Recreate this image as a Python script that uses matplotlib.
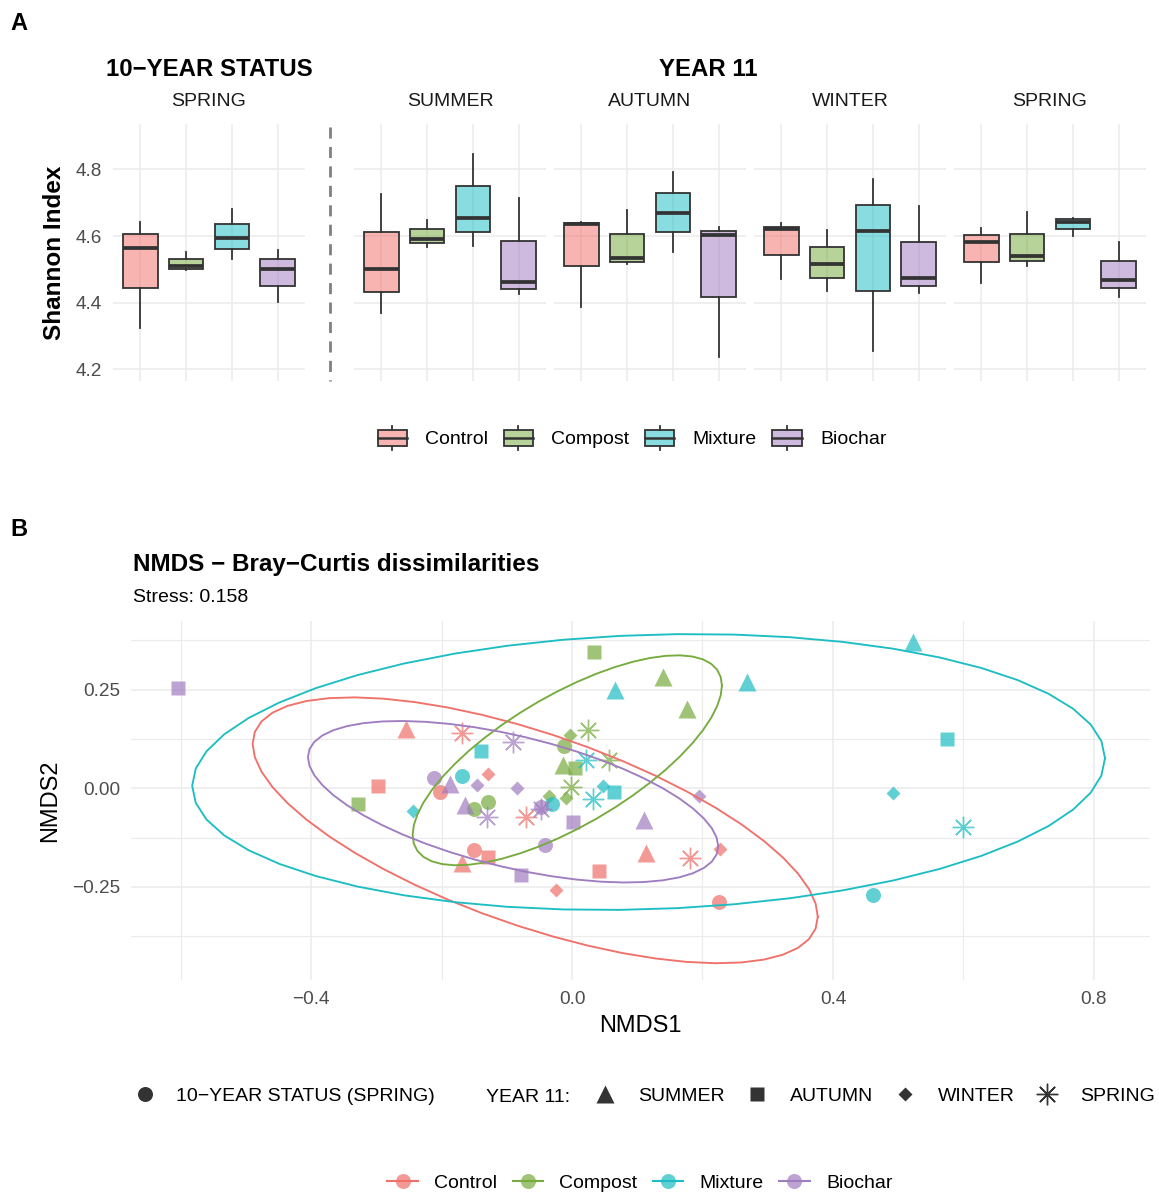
import numpy as np
import matplotlib
matplotlib.use("Agg")
import matplotlib.pyplot as plt
from matplotlib.colors import to_rgba
from matplotlib.lines import Line2D
from matplotlib.patches import Rectangle, Patch
from matplotlib.legend_handler import HandlerBase

plt.rcParams["font.family"] = ["Liberation Sans", "DejaVu Sans"]

# ---------------- data ----------------
treatments = ["Control", "Compost", "Mixture", "Biochar"]
palette = ["#F0706A", "#76AB3D", "#1DBDC4", "#A07CC0"]

# Shannon index box stats per treatment: (whisker low, q1, median, q3, whisker high)
status_spring = [(4.323, 4.445, 4.565, 4.605, 4.642), (4.497, 4.501, 4.510, 4.531, 4.551),
                 (4.532, 4.561, 4.595, 4.637, 4.680), (4.403, 4.450, 4.501, 4.530, 4.557)]
y11_summer = [(4.368, 4.433, 4.501, 4.613, 4.726), (4.568, 4.578, 4.592, 4.620, 4.647),
              (4.571, 4.613, 4.655, 4.751, 4.845), (4.425, 4.442, 4.461, 4.586, 4.714)]
y11_autumn = [(4.386, 4.510, 4.636, 4.639, 4.641), (4.515, 4.523, 4.533, 4.607, 4.677),
              (4.553, 4.611, 4.670, 4.730, 4.791), (4.238, 4.418, 4.602, 4.614, 4.626)]
y11_winter = [(4.472, 4.543, 4.622, 4.628, 4.638), (4.436, 4.475, 4.517, 4.568, 4.617),
              (4.256, 4.436, 4.616, 4.693, 4.770), (4.430, 4.451, 4.474, 4.581, 4.690)]
y11_spring = [(4.460, 4.521, 4.582, 4.603, 4.623), (4.511, 4.525, 4.541, 4.607, 4.671),
              (4.601, 4.621, 4.642, 4.650, 4.653), (4.418, 4.444, 4.468, 4.526, 4.581)]
box_facets = [status_spring, y11_summer, y11_autumn, y11_winter, y11_spring]
facet_titles = ["SPRING", "SUMMER", "AUTUMN", "WINTER", "SPRING"]
shannon_ticks = [4.2, 4.4, 4.6, 4.8]

# NMDS scores (NMDS1, NMDS2), three replicates per sampling
seasons = ["status", "summer", "autumn", "winter", "spring"]
season_labels = ["10−YEAR STATUS (SPRING)", "SUMMER", "AUTUMN", "WINTER", "SPRING"]
control_scores = {
    "status": [(-0.203, -0.009), (-0.150, -0.157), (0.226, -0.289)],
    "summer": [(-0.254, 0.151), (-0.169, -0.189), (0.113, -0.164)],
    "autumn": [(-0.297, 0.006), (-0.128, -0.173), (0.041, -0.210)],
    "winter": [(-0.129, 0.035), (-0.025, -0.259), (0.227, -0.153)],
    "spring": [(-0.168, 0.140), (-0.070, -0.074), (0.181, -0.176)],
}
compost_scores = {
    "status": [(-0.012, 0.107), (-0.128, -0.035), (-0.150, -0.053)],
    "summer": [(-0.014, 0.058), (0.140, 0.283), (0.176, 0.202)],
    "autumn": [(0.034, 0.346), (0.005, 0.052), (-0.328, -0.041)],
    "winter": [(-0.003, 0.134), (-0.036, -0.020), (-0.009, -0.024)],
    "spring": [(0.025, 0.147), (0.057, 0.071), (-0.001, 0.003)],
}
mixture_scores = {
    "status": [(-0.169, 0.030), (-0.030, -0.041), (0.461, -0.270)],
    "summer": [(0.066, 0.249), (0.268, 0.270), (0.523, 0.371)],
    "autumn": [(-0.139, 0.094), (0.064, -0.009), (0.575, 0.126)],
    "winter": [(0.048, 0.006), (-0.243, -0.058), (0.492, -0.011)],
    "spring": [(0.022, 0.071), (0.032, -0.028), (0.600, -0.098)],
}
biochar_scores = {
    "status": [(-0.211, 0.026), (-0.041, -0.145), (-0.048, -0.048)],
    "summer": [(-0.187, 0.012), (-0.164, -0.043), (0.111, -0.081)],
    "autumn": [(-0.604, 0.253), (0.001, -0.085), (-0.078, -0.221)],
    "winter": [(-0.145, 0.009), (-0.085, 0.001), (0.195, -0.019)],
    "spring": [(-0.091, 0.118), (-0.130, -0.074), (-0.048, -0.052)],
}
nmds_groups = [control_scores, compost_scores, mixture_scores, biochar_scores]
stress = 0.158

# ---------------- helpers ----------------
W, H = 1159, 1193
fig = plt.figure(figsize=(W / 100, H / 100), dpi=100)


def fx(px):
    return px / W


def fy(py):
    return 1 - py / H


def rect(x0, y0, x1, y1):
    return [fx(x0), fy(y1), (x1 - x0) / W, (y1 - y0) / H]


def cov_trob(pts, nu=5, maxit=25, tol=0.01):
    # port of MASS::cov.trob, as used by stat_ellipse(type = "t")
    n, p = pts.shape
    loc = pts.mean(axis=0)
    w = np.ones(n)
    for _ in range(maxit):
        w0 = w
        X = pts - loc
        _, d, vt = np.linalg.svd(np.sqrt(w / w.sum())[:, None] * X, full_matrices=False)
        Q = ((X @ vt.T / d) ** 2).sum(axis=1)
        w = (nu + p) / (nu + Q)
        loc = (w[:, None] * pts).sum(axis=0) / w.sum()
        if np.all(np.abs(w - w0) < tol):
            break
    sx = np.sqrt(w)[:, None] * X
    return loc, sx.T @ sx / n


def ellipse(pts, level=0.95, segments=51):
    center, shape = cov_trob(pts)
    dfd = len(pts) - 1
    fq = dfd / 2 * ((1 - level) ** (-2 / dfd) - 1)  # qf(level, 2, dfd)
    radius = np.sqrt(2 * fq)
    t = np.linspace(0, 2 * np.pi, segments)
    circ = np.column_stack([np.cos(t), np.sin(t)])
    L = np.linalg.cholesky(shape)
    return center + radius * circ @ L.T


grid_col = "#EBEBEB"
dark = "#333333"

# ---------------- panel A ----------------
facet_px = [(113, 305), (354, 546), (554, 746), (754, 946), (954, 1146)]
a_top, a_bot = 124, 381
for i, (stats, (x0, x1)) in enumerate(zip(box_facets, facet_px)):
    ax = fig.add_axes(rect(x0, a_top, x1, a_bot))
    bstats = [dict(whislo=s[0], q1=s[1], med=s[2], q3=s[3], whishi=s[4]) for s in stats]
    art = ax.bxp(bstats, positions=[1, 2, 3, 4], widths=0.75, patch_artist=True,
                 showfliers=False, showcaps=False,
                 boxprops=dict(edgecolor=dark, linewidth=1.3),
                 medianprops=dict(color=dark, linewidth=2.7, solid_capstyle="butt"),
                 whiskerprops=dict(color=dark, linewidth=1.3))
    for patch, col in zip(art["boxes"], palette):
        patch.set_facecolor(to_rgba(col, 0.52))
    ax.set_xlim(0.4, 4.6)
    ax.set_ylim(4.165, 4.936)
    ax.set_xticks([1, 2, 3, 4])
    ax.set_yticks(shannon_ticks)
    ax.set_yticklabels([f"{v:.1f}" for v in shannon_ticks])
    ax.grid(True, color=grid_col, lw=1.1)
    ax.set_axisbelow(True)
    ax.tick_params(length=0, labelbottom=False, labelleft=(i == 0),
                   labelsize=13.7, labelcolor="#4D4D4D", pad=8)
    for s in ax.spines.values():
        s.set_visible(False)
    fig.text(fx((x0 + x1) / 2), fy(102), facet_titles[i], fontsize=14,
             color="#1A1A1A", ha="center", va="center")

fig.text(fx(209), fy(70), "10−YEAR STATUS", fontsize=17.3, fontweight="bold", ha="center", va="center")
fig.text(fx(708), fy(70), "YEAR 11", fontsize=17.3, fontweight="bold", ha="center", va="center")
fig.text(fx(55), fy(253), "Shannon Index", fontsize=17.5, fontweight="bold",
         rotation=90, ha="center", va="center")
fig.add_artist(Line2D([fx(330), fx(330)], [fy(127), fy(381)], transform=fig.transFigure,
                      color="#808080", lw=2, ls=(0, (4, 3))))


class BoxKey(HandlerBase):
    def create_artists(self, legend, orig, xd, yd, width, height, fontsize, trans):
        x0, y0 = -xd, -yd
        bh = height * 0.63
        by = y0 + (height - bh) / 2
        cx = x0 + width / 2
        box = Rectangle((x0, by), width, bh, facecolor=orig.get_facecolor(),
                        edgecolor=dark, lw=1.3, transform=trans)
        med = Line2D([x0, x0 + width], [y0 + height / 2] * 2, color=dark, lw=1.8, transform=trans)
        w1 = Line2D([cx, cx], [y0, by], color=dark, lw=1.3, transform=trans)
        w2 = Line2D([cx, cx], [by + bh, y0 + height], color=dark, lw=1.3, transform=trans)
        return [w1, w2, box, med]


box_handles = [Patch(facecolor=to_rgba(c, 0.52)) for c in palette]
fig.legend(box_handles, treatments, loc="center", bbox_to_anchor=(fx(632), fy(438)),
           ncol=4, frameon=False, fontsize=14, handler_map={Patch: BoxKey()},
           handlelength=1.5, handleheight=1.55, handletextpad=0.95, columnspacing=0.8,
           borderpad=0, borderaxespad=0)

# ---------------- panel B ----------------
markers = {"status": ("o", 10.8), "summer": ("^", 12.5), "autumn": ("s", 10.5),
           "winter": ("D", 7.4), "spring": ((8, 2, 0), 15.5)}

axb = fig.add_axes(rect(131, 621, 1150, 980))
for group, col in zip(nmds_groups, palette):
    for key in seasons:
        xy = np.array(group[key])
        m, ms = markers[key]
        if key == "spring":
            axb.plot(xy[:, 0], xy[:, 1], ls="none", marker=m, ms=ms, mec=col, mew=1.0, alpha=0.7)
        else:
            axb.plot(xy[:, 0], xy[:, 1], ls="none", marker=m, ms=ms, mfc=col, mec="none", alpha=0.7)
for group, col in zip(nmds_groups, palette):
    pts = np.array([p for key in seasons for p in group[key]])
    e = ellipse(pts)
    axb.plot(e[:, 0], e[:, 1], color=col, lw=1.35)

axb.set_xlim(-0.676, 0.886)
axb.set_ylim(-0.486, 0.424)
axb.set_xticks([-0.4, 0.0, 0.4, 0.8])
axb.set_xticklabels(["−0.4", "0.0", "0.4", "0.8"])
axb.set_xticks([-0.6, -0.2, 0.2, 0.6], minor=True)
axb.set_yticks([-0.25, 0.0, 0.25])
axb.set_yticklabels(["−0.25", "0.00", "0.25"])
axb.set_yticks([-0.375, -0.125, 0.125, 0.375], minor=True)
axb.grid(True, which="major", color=grid_col, lw=1.1)
axb.grid(True, which="minor", color=grid_col, lw=0.8)
axb.set_axisbelow(True)
axb.tick_params(which="both", length=0, labelsize=13.7, labelcolor="#4D4D4D", pad=8)
for s in axb.spines.values():
    s.set_visible(False)

fig.text(fx(640), fy(1026), "NMDS1", fontsize=17, ha="center", va="center")
fig.text(fx(50), fy(801), "NMDS2", fontsize=17, rotation=90, ha="center", va="center")
fig.text(fx(133), fy(565), "NMDS − Bray−Curtis dissimilarities", fontsize=17.5,
         fontweight="bold", ha="left", va="center")
fig.text(fx(133), fy(598), f"Stress: {stress}", fontsize=14, ha="left", va="center")

fig.text(fx(10), fy(24), "A", fontsize=17, fontweight="bold", ha="left", va="center")
fig.text(fx(10), fy(530), "B", fontsize=17, fontweight="bold", ha="left", va="center")

# shape legend
def shape_handle(key):
    m, ms = markers[key]
    if key == "spring":
        return Line2D([], [], ls="none", marker=m, ms=ms, mec=dark, mew=1.0)
    return Line2D([], [], ls="none", marker=m, ms=ms, mfc=dark, mec="none")


fig.legend([shape_handle("status")], [season_labels[0]], loc="center left",
           bbox_to_anchor=(fx(135), fy(1096)), frameon=False, fontsize=14,
           handlelength=1.0, handletextpad=1.13, borderpad=0, borderaxespad=0)
fig.text(fx(486.5), fy(1097), "YEAR 11:", fontsize=14, ha="left", va="center")
fig.legend([shape_handle(k) for k in seasons[1:]], season_labels[1:], loc="center left",
           bbox_to_anchor=(fx(595), fy(1096)), ncol=4, frameon=False, fontsize=14,
           handlelength=1.0, handletextpad=1.2, columnspacing=1.16, borderpad=0, borderaxespad=0)

# colour legend
col_handles = [Line2D([], [], color=c, lw=1.5, marker="o", ms=10.8,
                      mfc=to_rgba(c, 0.7), mec="none") for c in palette]
fig.legend(col_handles, treatments, loc="center", bbox_to_anchor=(fx(640), fy(1183)),
           ncol=4, frameon=False, fontsize=14, numpoints=1, handlelength=1.55,
           handletextpad=0.85, columnspacing=0.8, borderpad=0, borderaxespad=0)

fig.savefig("out.png", dpi=100)
